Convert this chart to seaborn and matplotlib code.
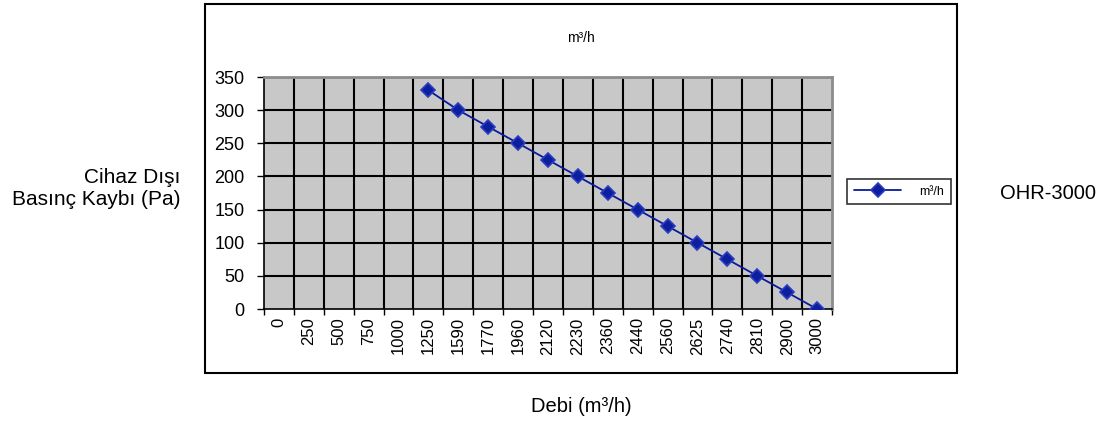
import numpy as np
import pandas as pd
import matplotlib
matplotlib.use("Agg")
import matplotlib.pyplot as plt
import seaborn as sns
from matplotlib.patches import Rectangle

debi = ["0", "250", "500", "750", "1000", "1250", "1590", "1770", "1960", "2120",
        "2230", "2360", "2440", "2560", "2625", "2740", "2810", "2900", "3000"]
basinc = [np.nan, np.nan, np.nan, np.nan, np.nan, 330, 300, 275, 250, 225,
          200, 175, 150, 125, 100, 75, 50, 25, 0]
y_ticks = [0, 50, 100, 150, 200, 250, 300, 350]

sns.set_theme(style="white")
plt.rcParams["font.family"] = ["Liberation Sans", "DejaVu Sans"]
plt.rcParams["text.color"] = "black"
plt.rcParams["xtick.color"] = "black"
plt.rcParams["ytick.color"] = "black"

df = pd.DataFrame({"pos": np.arange(len(debi)), "basinc": basinc})

fig = plt.figure(figsize=(11.04, 4.23), dpi=100)
W, H = 1104, 423

# outer chart frame
fig.patches.append(Rectangle((205 / W, 1 - 373 / H), (957 - 205) / W, (373 - 4) / H,
                             transform=fig.transFigure, fill=False, edgecolor="black",
                             linewidth=1.5, zorder=0))

ax = fig.add_axes([264 / W, 1 - 309 / H, (832 - 264) / W, (309 - 77) / H])
ax.set_facecolor("#c8c8c8")

sns.lineplot(data=df, x="pos", y="basinc", ax=ax, color="#0a1a9a", linewidth=1.3,
             marker="D", markersize=7, markeredgecolor="#2a3cc0", markeredgewidth=1.2,
             markerfacecolor="#0d1f9e", label="m³/h", zorder=3)

n = len(debi)
ax.set_xlim(-0.5, n - 0.5)
ax.set_ylim(0, 350)
ax.set_xticks(np.arange(n))
ax.set_xticklabels(debi, rotation=90, fontsize=12)
ax.set_xticks(np.arange(n + 1) - 0.5, minor=True)
ax.set_yticks(y_ticks)
ax.set_yticklabels([str(v) for v in y_ticks], fontsize=13)
ax.tick_params(axis="x", which="major", length=0, pad=6)
ax.tick_params(axis="x", which="minor", length=4, width=1, color="black", direction="out", bottom=True)
ax.tick_params(axis="y", length=5, width=1, color="black", direction="out", left=True, pad=9)
for x in np.arange(1, n) - 0.5:
    ax.axvline(x, color="black", linewidth=1.5, zorder=1)
for y in y_ticks[1:]:
    ax.axhline(y, color="black", linewidth=1.5, zorder=1)
ax.set_xlabel("")
ax.set_ylabel("")
for s in ["left", "bottom"]:
    ax.spines[s].set_color("black")
    ax.spines[s].set_linewidth(1.2)
for s in ["top", "right"]:
    ax.spines[s].set_color("#8c8c8c")
    ax.spines[s].set_linewidth(2)

leg = ax.legend(loc="center left", bbox_to_anchor=((847 - 264) / 568, (309 - 191.5) / 232),
                frameon=True, fontsize=9, fancybox=False, edgecolor="black",
                handlelength=3.8, borderpad=0.55, handletextpad=1.4, borderaxespad=0)
leg.get_frame().set_linewidth(1.2)

fig.text(581 / W, 1 - 38 / H, "m³/h", fontsize=10, ha="center", va="center")
fig.text(180 / W, 1 - 188 / H, "Cihaz Dışı\nBasınç Kaybı (Pa)", fontsize=15, ha="right",
         va="center", multialignment="right", linespacing=1.2)
fig.text(1048 / W, 1 - 193 / H, "OHR-3000", fontsize=14.5, ha="center", va="center")
fig.text(581 / W, 1 - 406 / H, "Debi (m³/h)", fontsize=14.5, ha="center", va="center")

fig.savefig("out.png", dpi=100)
